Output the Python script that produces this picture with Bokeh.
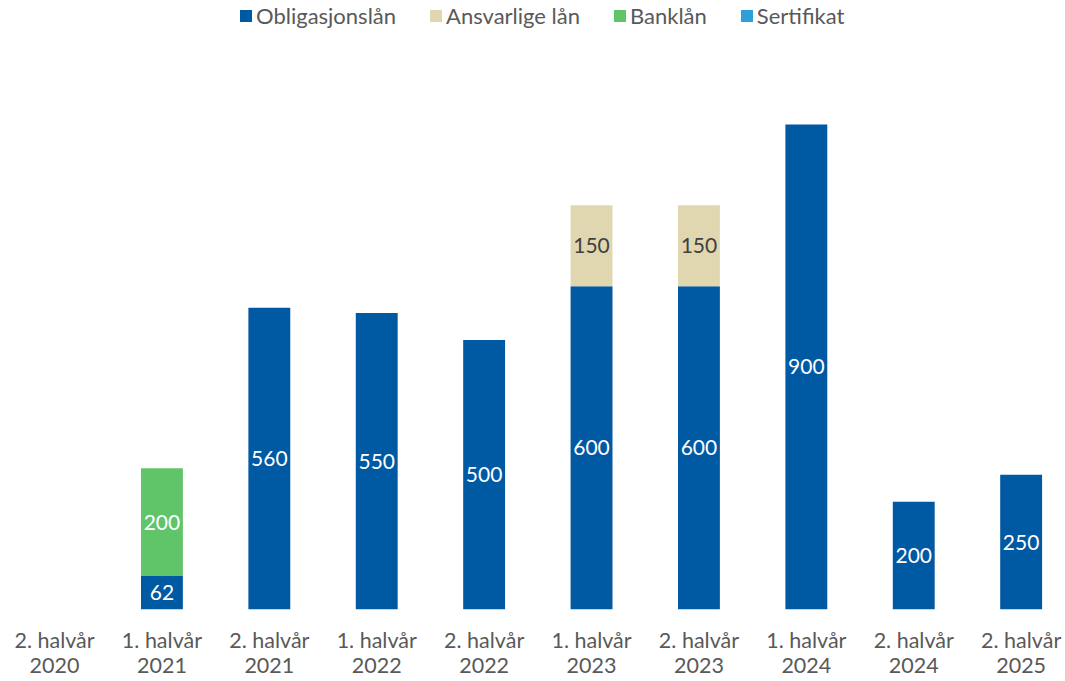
import numpy as np
from bokeh.plotting import figure
from bokeh.models import ColumnDataSource, Range1d, FixedTicker, Legend, LegendItem
from bokeh.core.properties import value
from bokeh.embed import file_html
from bokeh.resources import INLINE

categories = ["2. halvår\n2020", "1. halvår\n2021", "2. halvår\n2021", "1. halvår\n2022",
              "2. halvår\n2022", "1. halvår\n2023", "2. halvår\n2023", "1. halvår\n2024",
              "2. halvår\n2024", "2. halvår\n2025"]
obligasjonslan = [0, 62, 560, 550, 500, 600, 600, 900, 200, 250]
ansvarlige_lan = [0, 0, 0, 0, 0, 150, 150, 0, 0, 0]
banklan = [0, 200, 0, 0, 0, 0, 0, 0, 0, 0]
sertifikat = [0, 0, 0, 0, 0, 0, 0, 0, 0, 0]

series_names = ["Obligasjonslån", "Ansvarlige lån", "Banklån", "Sertifikat"]
series_vals = [obligasjonslan, ansvarlige_lan, banklan, sertifikat]
colors = ["#0059A3", "#E0D7B0", "#60C468", "#2E9FDB"]
label_colors = ["white", "#404040", "white", "white"]

FONT = "Lato"
x = list(range(len(categories)))

src = ColumnDataSource(dict(x=x, s0=obligasjonslan, s1=ansvarlige_lan, s2=banklan, s3=sertifikat))

W, H = 1065, 681
p = figure(width=W, height=H, output_backend="svg", toolbar_location=None,
           x_range=Range1d(-0.503, 9.413), y_range=Range1d(0, 1130),
           min_border_left=0, min_border_right=0, min_border_top=0, min_border_bottom=72)
p.outline_line_color = None
p.xgrid.visible = False
p.ygrid.visible = False
p.yaxis.visible = False

renderers = p.vbar_stack(["s0", "s1", "s2", "s3"], x="x", width=0.39, source=src,
                         color=colors, line_color=None)

# data labels
lx, ly, lt, lc = [], [], [], []
for i in range(len(categories)):
    bottom = 0
    for k, vals in enumerate(series_vals):
        v = vals[i]
        if v > 0:
            lx.append(x[i]); ly.append(bottom + v / 2); lt.append(str(v)); lc.append(label_colors[k])
        bottom += v
p.text(x=lx, y=ly, text=lt, text_color=lc, text_align="center", text_baseline="middle",
       text_font=value(FONT), text_font_size="21px")

ax = p.xaxis[0]
ax.ticker = FixedTicker(ticks=x)
ax.major_label_overrides = {i: c for i, c in enumerate(categories)}
ax.axis_line_color = None
ax.major_tick_line_color = None
ax.minor_tick_line_color = None
ax.major_tick_out = 0
ax.major_tick_in = 0
ax.major_label_standoff = 17
ax.major_label_text_font = FONT
ax.major_label_text_font_size = "21.5px"
ax.major_label_text_color = "#595959"
ax.major_label_text_line_height = 0.97

legend = Legend(items=[LegendItem(label=n, renderers=[r]) for n, r in zip(series_names, renderers)],
                orientation="horizontal", location=(238, 580))
legend.label_text_font = FONT
legend.label_text_font_size = "22px"
legend.label_text_color = "#595959"
legend.glyph_width = 15
legend.glyph_height = 15
legend.label_standoff = 3
legend.spacing = 32
legend.padding = 0
legend.margin = 0
legend.border_line_color = None
legend.background_fill_alpha = 0
p.add_layout(legend)

open("out.html", "w").write(file_html(p, INLINE))
